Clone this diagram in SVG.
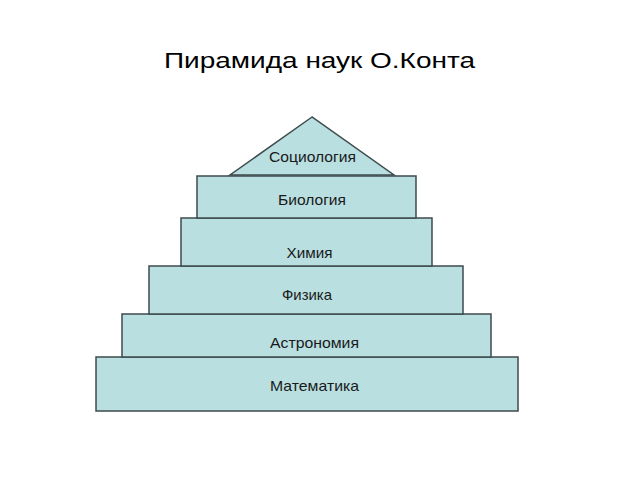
<svg xmlns="http://www.w3.org/2000/svg" width="640" height="480" viewBox="0 0 640 480">
<style>
.b{fill:#b9dfe1;stroke:#3e4b4d;stroke-width:1.5}
.t{font-family:"Liberation Sans",Arial,sans-serif;font-size:14.5px;fill:#1a1a1a;text-anchor:middle}
.h{font-family:"Liberation Sans",Arial,sans-serif;font-size:22px;fill:#000;text-anchor:middle}
</style>
<rect width="640" height="480" fill="#fff"/>
<text class="h" x="319.5" y="67.5" textLength="311" lengthAdjust="spacingAndGlyphs">Пирамида наук О.Конта</text>
<g id="math"><rect class="b" x="96" y="357" width="422" height="54"/><text class="t" x="314.5" y="390.5" textLength="89" lengthAdjust="spacingAndGlyphs">Математика</text></g>
<g id="astro"><rect class="b" x="122" y="314" width="369" height="43"/><text class="t" x="314.5" y="347.5" textLength="89" lengthAdjust="spacingAndGlyphs">Астрономия</text></g>
<g id="phys"><rect class="b" x="149" y="266" width="314" height="48"/><text class="t" x="307" y="300" textLength="50" lengthAdjust="spacingAndGlyphs">Физика</text></g>
<g id="chem"><rect class="b" x="181" y="218" width="251" height="48"/><text class="t" x="309.5" y="258" textLength="46" lengthAdjust="spacingAndGlyphs">Химия</text></g>
<g id="bio"><rect class="b" x="197" y="176" width="219" height="42"/><text class="t" x="312" y="204.5" textLength="68" lengthAdjust="spacingAndGlyphs">Биология</text></g>
<g id="soc"><polygon class="b" points="312,117 230,175 394,175"/><text class="t" x="312.5" y="162" textLength="87" lengthAdjust="spacingAndGlyphs">Социология</text></g>
<g id="connectors"></g>
</svg>
